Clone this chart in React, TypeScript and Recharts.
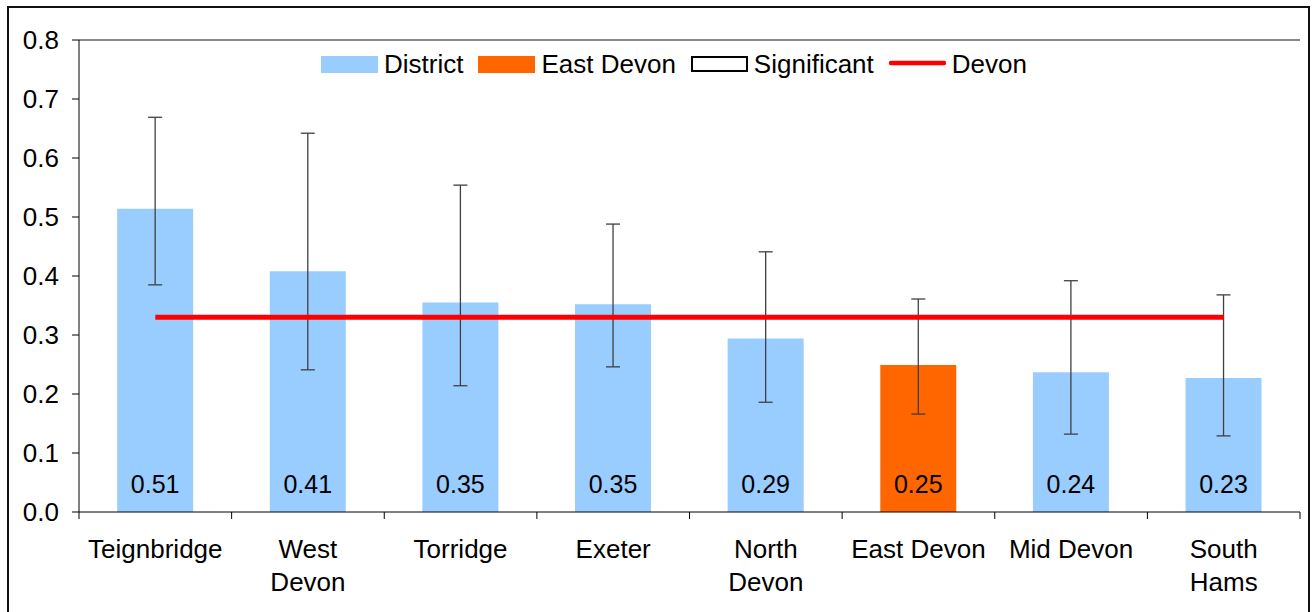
import {
  ComposedChart,
  Bar,
  Line,
  XAxis,
  YAxis,
  ErrorBar,
  Cell,
  LabelList,
  Legend,
  ReferenceLine,
} from "recharts";

// districts, in the order they are drawn
const districts = [
  "Teignbridge",
  "West Devon",
  "Torridge",
  "Exeter",
  "North Devon",
  "East Devon",
  "Mid Devon",
  "South Hams",
];

// how each district name wraps under the axis
const tickLines = [
  ["Teignbridge"],
  ["West", "Devon"],
  ["Torridge"],
  ["Exeter"],
  ["North", "Devon"],
  ["East Devon"],
  ["Mid Devon"],
  ["South", "Hams"],
];

const rates = [0.514, 0.408, 0.355, 0.352, 0.294, 0.249, 0.237, 0.227];
const lowerCI = [0.385, 0.241, 0.214, 0.246, 0.186, 0.166, 0.132, 0.129];
const upperCI = [0.669, 0.642, 0.554, 0.488, 0.441, 0.361, 0.392, 0.368];

const devonRate = 0.33;
const highlight = "East Devon";

const yTicks = [0, 0.1, 0.2, 0.3, 0.4, 0.5, 0.6, 0.7, 0.8];

const legendItems = [
  { label: "District", kind: "bar" },
  { label: "East Devon", kind: "highlight" },
  { label: "Significant", kind: "outline" },
  { label: "Devon", kind: "line" },
];

const BLUE = "#99CCFF";
const ORANGE = "#FF6600";
const FONT = '"Liberation Sans", Arial, sans-serif';

const data = districts.map((name, i) => ({
  name,
  value: rates[i],
  err: [rates[i] - lowerCI[i], upperCI[i] - rates[i]],
  devon: devonRate,
}));

function XTick(props: any) {
  const { x, y, payload } = props;
  const idx = districts.indexOf(payload.value);
  const half = payload.offset ?? 76;
  const lines = tickLines[idx] || [payload.value];
  return (
    <g>
      <line x1={x - half} x2={x - half} y1={y} y2={y + 7} stroke="#000" />
      {idx === districts.length - 1 && (
        <line x1={x + half} x2={x + half} y1={y} y2={y + 7} stroke="#000" />
      )}
      <text textAnchor="middle" fontSize={26} fontFamily={FONT} fill="#000">
        {lines.map((l, i) => (
          <tspan key={i} x={x} y={y + 46 + i * 33}>
            {l}
          </tspan>
        ))}
      </text>
    </g>
  );
}

function LegendBox() {
  return (
    <div style={{ display: "flex", alignItems: "center", height: 20, fontFamily: FONT, fontSize: 26 }}>
      {legendItems.map((item) => (
        <div key={item.label} style={{ display: "flex", alignItems: "center", marginRight: 15 }}>
          <svg width={57} height={17} style={{ marginRight: 6, display: "block" }}>
            {item.kind === "bar" && <rect x={0} y={0} width={57} height={17} fill={BLUE} />}
            {item.kind === "highlight" && <rect x={0} y={0} width={57} height={17} fill={ORANGE} />}
            {item.kind === "outline" && (
              <rect x={1} y={1} width={55} height={14} fill="#fff" stroke="#000" strokeWidth={2} />
            )}
            {item.kind === "line" && (
              <line x1={2} x2={55} y1={7} y2={7} stroke="#FF0000" strokeWidth={4.5} strokeLinecap="round" />
            )}
          </svg>
          <span style={{ lineHeight: "20px", whiteSpace: "nowrap" }}>{item.label}</span>
        </div>
      ))}
    </div>
  );
}

export default function App() {
  return (
    <div style={{ position: "absolute", left: 0, top: 0, width: 1315, height: 612 }}>
      <div
        style={{
          position: "absolute",
          left: 7,
          top: 6,
          width: 1299,
          height: 620,
          border: "2px solid #111",
        }}
      />
      <ComposedChart
        width={1315}
        height={612}
        data={data}
        margin={{ top: 40, right: 15, left: 19, bottom: 0 }}
        barCategoryGap="25%"
        style={{ fontFamily: FONT }}
      >
        <XAxis
          dataKey="name"
          height={100}
          interval={0}
          tickLine={false}
          tickSize={0}
          tickMargin={0}
          axisLine={{ stroke: "#000" }}
          tick={<XTick />}
        />
        <YAxis
          domain={[0, 0.8]}
          ticks={yTicks}
          width={60}
          tickSize={7}
          tickMargin={13}
          axisLine={{ stroke: "#000" }}
          tickLine={{ stroke: "#000" }}
          tick={{ fill: "#000", fontSize: 26, fontFamily: FONT }}
          tickFormatter={(v: number) => v.toFixed(1)}
        />
        <YAxis
          yAxisId="right"
          orientation="right"
          width={0}
          tick={false}
          tickLine={false}
          axisLine={{ stroke: "#606060", strokeWidth: 1.5 }}
        />
        <ReferenceLine y={0.8} stroke="#606060" strokeWidth={1.5} />
        <Legend
          layout="horizontal"
          verticalAlign="middle"
          align="center"
          wrapperStyle={{ top: 54, left: 321, width: "auto" }}
          content={<LegendBox />}
        />
        <Bar dataKey="value" isAnimationActive={false} legendType="none">
          {data.map((d) => (
            <Cell key={d.name} fill={d.name === highlight ? ORANGE : BLUE} />
          ))}
          <LabelList
            dataKey="value"
            position="insideBottom"
            offset={19}
            fill="#000"
            fontSize={25}
            fontFamily={FONT}
            formatter={(v: any) => Number(v).toFixed(2)}
          />
          <ErrorBar dataKey="err" width={7} stroke="#404040" strokeWidth={1.3} />
        </Bar>
        <Line
          dataKey="devon"
          stroke="#FF0000"
          strokeWidth={5}
          dot={false}
          activeDot={false}
          isAnimationActive={false}
          legendType="none"
        />
      </ComposedChart>
    </div>
  );
}
